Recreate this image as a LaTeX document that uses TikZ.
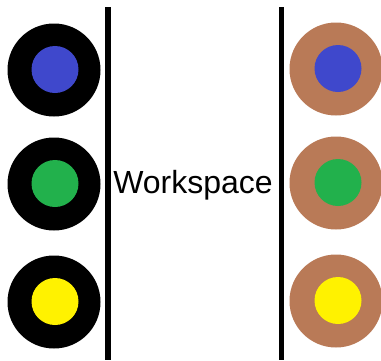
\documentclass[tikz,border=0pt]{standalone}
\usepackage{fontspec}
\setmainfont{Liberation Sans}
\definecolor{pinblue}{RGB}{63,72,204}
\definecolor{pingreen}{RGB}{34,177,76}
\definecolor{pinyellow}{RGB}{255,242,0}
\definecolor{pinbrown}{RGB}{185,122,87}

\begin{document}
\begin{tikzpicture}[x=1pt, y=-1pt,
    ring/.style={circle, inner sep=0pt, minimum size=93pt},
    core/.style={circle, inner sep=0pt, minimum size=47pt}]
        \useasboundingbox (0,0) rectangle (381,360);
        % walls
        \draw[line width=5.5pt] (108,7) -- (108,360);
        \draw[line width=5.5pt] (281.5,7) -- (281.5,360);
        \node[font=\fontsize{32}{32}\selectfont, inner sep=0pt] (ws) at (193,185) {Workspace};
        % left and right pins
        \foreach \i/\y/\c in {1/70/pinblue, 2/184/pingreen, 3/302/pinyellow} {
          \node[ring, fill=black] (l\i) at (54,\y) {};
          \node[core, fill=\c] (lc\i) at (55,\y-0.5) {};
          \node[ring, fill=pinbrown] (r\i) at (336,\y-1) {};
          \node[core, fill=\c] (rc\i) at (338,\y-1.5) {};
        }
     \end{tikzpicture}
\end{document}
